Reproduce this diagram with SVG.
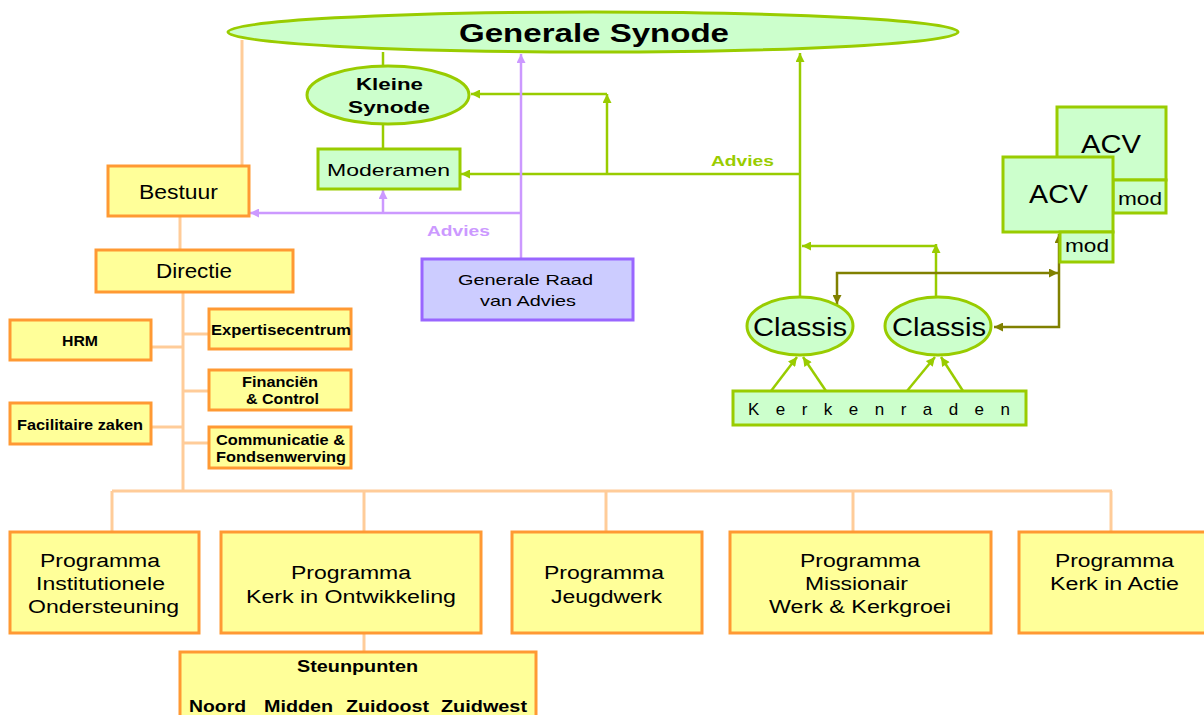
<svg xmlns="http://www.w3.org/2000/svg" width="1204" height="715" viewBox="0 0 1204 715">
<style>
text{font-family:"Liberation Sans",Arial,sans-serif;fill:#000;}
.b{font-weight:bold;}
.gbox{fill:#CCFFCC;stroke:#99CC00;stroke-width:3;}
.ybox{fill:#FFFF99;stroke:#FF9933;stroke-width:3;}
.pbox{fill:#CCCCFF;stroke:#9966FF;stroke-width:3;}
.peach{stroke:#FFCC99;stroke-width:3;fill:none;}
.green{stroke:#99CC00;stroke-width:2.5;fill:none;}
.purple{stroke:#CC99FF;stroke-width:2.5;fill:none;}
.olive{stroke:#808000;stroke-width:2.5;fill:none;}
</style>
<defs>
<marker id="ag" viewBox="0 0 10 10" refX="10" refY="5" markerWidth="10" markerHeight="9" markerUnits="userSpaceOnUse" orient="auto-start-reverse"><path d="M0,0 L10,5 L0,10 z" fill="#99CC00"/></marker>
<marker id="ap" viewBox="0 0 10 10" refX="10" refY="5" markerWidth="10" markerHeight="9" markerUnits="userSpaceOnUse" orient="auto-start-reverse"><path d="M0,0 L10,5 L0,10 z" fill="#CC99FF"/></marker>
<marker id="ao" viewBox="0 0 10 10" refX="10" refY="5" markerWidth="10" markerHeight="9" markerUnits="userSpaceOnUse" orient="auto-start-reverse"><path d="M0,0 L10,5 L0,10 z" fill="#808000"/></marker>
</defs>
<rect width="1204" height="715" fill="#fff"/>

<g id="connectors">
  <!-- peach org lines -->
  <line class="peach" x1="242" y1="40" x2="242" y2="165"/>
  <line class="peach" x1="180" y1="216" x2="180" y2="249"/>
  <line class="peach" x1="183" y1="292" x2="183" y2="492"/>
  <line class="peach" x1="151" y1="347" x2="183" y2="347"/>
  <line class="peach" x1="151" y1="427" x2="183" y2="427"/>
  <line class="peach" x1="183" y1="334" x2="209" y2="334"/>
  <line class="peach" x1="183" y1="391" x2="209" y2="391"/>
  <line class="peach" x1="183" y1="443" x2="209" y2="443"/>
  <line class="peach" x1="112" y1="491" x2="1112" y2="491"/>
  <line class="peach" x1="112" y1="491" x2="112" y2="532"/>
  <line class="peach" x1="364" y1="491" x2="364" y2="532"/>
  <line class="peach" x1="606" y1="491" x2="606" y2="532"/>
  <line class="peach" x1="853" y1="491" x2="853" y2="532"/>
  <line class="peach" x1="1111" y1="491" x2="1111" y2="532"/>
  <line class="peach" x1="364" y1="633" x2="364" y2="652"/>
  <!-- green -->
  <line class="green" stroke-width="3" x1="383" y1="52" x2="383" y2="66"/>
  <line class="green" stroke-width="3" x1="383" y1="124" x2="383" y2="149"/>
  <line class="green" x1="800" y1="298" x2="800" y2="53" marker-end="url(#ag)"/>
  <line class="green" x1="800" y1="174" x2="461" y2="174" marker-end="url(#ag)"/>
  <line class="green" x1="607" y1="174" x2="607" y2="94" marker-end="url(#ag)"/>
  <line class="green" x1="607" y1="94" x2="471" y2="94" marker-end="url(#ag)"/>
  <line class="green" x1="936" y1="297" x2="936" y2="244" marker-end="url(#ag)"/>
  <line class="green" x1="936" y1="246" x2="802" y2="246" marker-end="url(#ag)"/>
  <line class="green" x1="771" y1="391" x2="797" y2="357" marker-end="url(#ag)"/>
  <line class="green" x1="826" y1="391" x2="803" y2="357" marker-end="url(#ag)"/>
  <line class="green" x1="907" y1="391" x2="935" y2="357" marker-end="url(#ag)"/>
  <line class="green" x1="963" y1="391" x2="941" y2="357" marker-end="url(#ag)"/>
  <!-- purple -->
  <line class="purple" x1="521" y1="259" x2="521" y2="54" marker-end="url(#ap)"/>
  <line class="purple" x1="521" y1="213" x2="250" y2="213" marker-end="url(#ap)"/>
  <line class="purple" x1="383" y1="213" x2="383" y2="190" marker-end="url(#ap)"/>
  <!-- olive -->
  <path class="olive" d="M837,304 L837,273 L1058,273" marker-start="url(#ao)" marker-end="url(#ao)"/>
  <path class="olive" d="M994,327 L1059,327 L1059,234" marker-start="url(#ao)" marker-end="url(#ao)"/>
  <text class="b" x="427" y="236" font-size="15" textLength="63" lengthAdjust="spacingAndGlyphs" style="fill:#CC99FF">Advies</text>
  <text class="b" x="711" y="166" font-size="15" textLength="63" lengthAdjust="spacingAndGlyphs" style="fill:#99CC00">Advies</text>
</g>

<g id="generale-synode">
  <ellipse class="gbox" cx="593" cy="32" rx="365" ry="20"/>
  <text class="b" x="459" y="42" font-size="26" textLength="270" lengthAdjust="spacingAndGlyphs">Generale Synode</text>
</g>
<g id="kleine-synode">
  <ellipse class="gbox" cx="388" cy="95" rx="81" ry="29"/>
  <text class="b" x="356" y="90" font-size="17" textLength="67" lengthAdjust="spacingAndGlyphs">Kleine</text>
  <text class="b" x="348" y="113" font-size="17" textLength="82" lengthAdjust="spacingAndGlyphs">Synode</text>
</g>
<g id="moderamen">
  <rect class="gbox" x="318" y="149" width="142" height="40"/>
  <text x="327" y="176" font-size="17" textLength="123" lengthAdjust="spacingAndGlyphs">Moderamen</text>
</g>
<g id="bestuur">
  <rect class="ybox" x="108" y="166" width="141" height="50"/>
  <text x="139" y="199" font-size="20" textLength="79" lengthAdjust="spacingAndGlyphs">Bestuur</text>
</g>
<g id="directie">
  <rect class="ybox" x="96" y="250" width="197" height="42"/>
  <text x="156" y="278" font-size="20" textLength="76" lengthAdjust="spacingAndGlyphs">Directie</text>
</g>
<g id="hrm">
  <rect class="ybox" x="10" y="320" width="141" height="40"/>
  <text class="b" x="62" y="346" font-size="14" textLength="36" lengthAdjust="spacingAndGlyphs">HRM</text>
</g>
<g id="expertisecentrum">
  <rect class="ybox" x="209" y="309" width="142" height="40"/>
  <text class="b" x="211" y="335" font-size="14" textLength="140" lengthAdjust="spacingAndGlyphs">Expertisecentrum</text>
</g>
<g id="financien">
  <rect class="ybox" x="209" y="370" width="142" height="40"/>
  <text class="b" x="242" y="387" font-size="14" textLength="76" lengthAdjust="spacingAndGlyphs">Financiën</text>
  <text class="b" x="246" y="404" font-size="14" textLength="73" lengthAdjust="spacingAndGlyphs">&amp; Control</text>
</g>
<g id="facilitaire">
  <rect class="ybox" x="10" y="403" width="141" height="41"/>
  <text class="b" x="17" y="430" font-size="14" textLength="126" lengthAdjust="spacingAndGlyphs">Facilitaire zaken</text>
</g>
<g id="communicatie">
  <rect class="ybox" x="209" y="427" width="142" height="41"/>
  <text class="b" x="216" y="445" font-size="14" textLength="129" lengthAdjust="spacingAndGlyphs">Communicatie &amp;</text>
  <text class="b" x="216" y="462" font-size="14" textLength="130" lengthAdjust="spacingAndGlyphs">Fondsenwerving</text>
</g>
<g id="generale-raad">
  <rect class="pbox" x="422" y="259" width="211" height="61"/>
  <text x="458" y="285" font-size="15" textLength="135" lengthAdjust="spacingAndGlyphs">Generale Raad</text>
  <text x="480" y="306" font-size="15" textLength="96" lengthAdjust="spacingAndGlyphs">van Advies</text>
</g>
<g id="acv-back">
  <rect class="gbox" x="1057" y="107" width="109" height="73"/>
  <text x="1081" y="153" font-size="25" textLength="60" lengthAdjust="spacingAndGlyphs">ACV</text>
  <rect class="gbox" x="1113" y="180" width="53" height="33"/>
  <text x="1118" y="205" font-size="18" textLength="44" lengthAdjust="spacingAndGlyphs">mod</text>
</g>
<g id="acv-front">
  <rect class="gbox" x="1003" y="157" width="110" height="75"/>
  <text x="1029" y="203" font-size="25" textLength="59" lengthAdjust="spacingAndGlyphs">ACV</text>
  <rect class="gbox" x="1060" y="232" width="53" height="30"/>
  <text x="1065" y="252" font-size="18" textLength="44" lengthAdjust="spacingAndGlyphs">mod</text>
</g>
<g id="classis-1">
  <ellipse class="gbox" cx="800" cy="326" rx="53" ry="29"/>
  <text x="753" y="336" font-size="26" textLength="94" lengthAdjust="spacingAndGlyphs">Classis</text>
</g>
<g id="classis-2">
  <ellipse class="gbox" cx="938" cy="326" rx="53" ry="29"/>
  <text x="892" y="336" font-size="26" textLength="94" lengthAdjust="spacingAndGlyphs">Classis</text>
</g>
<g id="kerkenraden">
  <rect class="gbox" x="733" y="391" width="293" height="34"/>
  <text x="748" y="415" font-size="17" textLength="262" lengthAdjust="spacing">K e r k e n r a d e n</text>
</g>
<g id="prog-institutionele">
  <rect class="ybox" x="10" y="532" width="189" height="101"/>
  <text x="40" y="567" font-size="18" textLength="120" lengthAdjust="spacingAndGlyphs">Programma</text>
  <text x="36" y="590" font-size="18" textLength="129" lengthAdjust="spacingAndGlyphs">Institutionele</text>
  <text x="28" y="613" font-size="18" textLength="151" lengthAdjust="spacingAndGlyphs">Ondersteuning</text>
</g>
<g id="prog-kerk-ontwikkeling">
  <rect class="ybox" x="221" y="532" width="260" height="101"/>
  <text x="291" y="579" font-size="18" textLength="120" lengthAdjust="spacingAndGlyphs">Programma</text>
  <text x="246" y="603" font-size="18" textLength="210" lengthAdjust="spacingAndGlyphs">Kerk in Ontwikkeling</text>
</g>
<g id="prog-jeugdwerk">
  <rect class="ybox" x="512" y="532" width="190" height="101"/>
  <text x="544" y="579" font-size="18" textLength="120" lengthAdjust="spacingAndGlyphs">Programma</text>
  <text x="551" y="603" font-size="18" textLength="111" lengthAdjust="spacingAndGlyphs">Jeugdwerk</text>
</g>
<g id="prog-missionair">
  <rect class="ybox" x="730" y="532" width="261" height="101"/>
  <text x="800" y="567" font-size="18" textLength="120" lengthAdjust="spacingAndGlyphs">Programma</text>
  <text x="805" y="590" font-size="18" textLength="103" lengthAdjust="spacingAndGlyphs">Missionair</text>
  <text x="769" y="613" font-size="18" textLength="182" lengthAdjust="spacingAndGlyphs">Werk &amp; Kerkgroei</text>
</g>
<g id="prog-kerk-in-actie">
  <rect class="ybox" x="1019" y="532" width="190" height="101"/>
  <text x="1055" y="567" font-size="18" textLength="119" lengthAdjust="spacingAndGlyphs">Programma</text>
  <text x="1050" y="590" font-size="18" textLength="129" lengthAdjust="spacingAndGlyphs">Kerk in Actie</text>
</g>
<g id="steunpunten">
  <rect class="ybox" x="180" y="652" width="356" height="70"/>
  <text class="b" x="297" y="672" font-size="16" textLength="121" lengthAdjust="spacingAndGlyphs">Steunpunten</text>
  <text class="b" y="712" font-size="16"><tspan x="189" textLength="57" lengthAdjust="spacingAndGlyphs">Noord</tspan> <tspan x="264" textLength="69" lengthAdjust="spacingAndGlyphs">Midden</tspan> <tspan x="346" textLength="83" lengthAdjust="spacingAndGlyphs">Zuidoost</tspan> <tspan x="441" textLength="86" lengthAdjust="spacingAndGlyphs">Zuidwest</tspan></text>
</g>
</svg>
